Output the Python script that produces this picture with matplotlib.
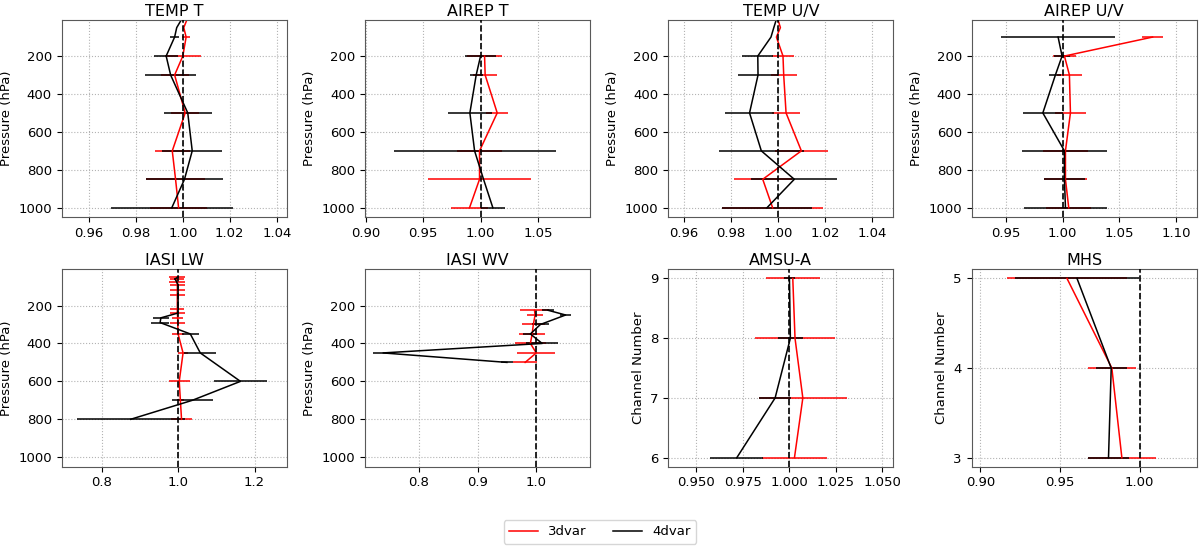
"""FSOI-style ratio profiles: 3dvar vs 4dvar for 8 observation types"""
import numpy as np
import matplotlib as mpl, matplotlib.pyplot as plt
from matplotlib.lines import Line2D

mpl.rcParams.update({"font.size": 9.5, "axes.titlesize": 11.5, "axes.titlepad": 3,
                     "axes.edgecolor": "0.35"})

# ---- data ----
temp_t_p = [10, 50, 100, 200, 300, 500, 700, 850, 1000]
temp_t_3d = [1.0017, 1.0004, 1.0014, 1.0, 0.9965, 1.001, 0.9955, 0.9969, 0.9982]
temp_t_3d_err = [0.0, 0.0, 0.0018, 0.0078, 0.006, 0.006, 0.0075, 0.0125, 0.012]
temp_t_4d = [0.9993, 0.9974, 0.9965, 0.9929, 0.9948, 1.0021, 1.004, 1.0007, 0.9953]
temp_t_4d_err = [0.001, 0.0, 0.002, 0.005, 0.011, 0.0103, 0.0128, 0.0164, 0.026]

airep_t_p = [200, 300, 500, 700, 850, 1000]
airep_t_3d = [1.0035, 1.004, 1.0145, 0.9991, 0.9991, 0.9904]
airep_t_3d_err = [0.015, 0.0104, 0.0098, 0.02, 0.045, 0.0165]
airep_t_4d = [1.0, 0.9962, 0.9907, 0.9948, 1.0026, 1.0107]
airep_t_4d_err = [0.0136, 0.0058, 0.019, 0.0705, 0.0, 0.0107]

temp_uv_p = [10, 50, 100, 200, 300, 500, 700, 850, 1000]
temp_uv_3d = [1.0, 1.001, 0.9993, 1.0021, 1.0024, 1.0034, 1.0099, 0.9935, 0.9977]
temp_uv_3d_err = [0.0, 0.0, 0.0003, 0.0045, 0.0056, 0.0061, 0.0113, 0.0123, 0.0213]
temp_uv_4d = [0.9992, 0.9982, 0.997, 0.9914, 0.9915, 0.9879, 0.9929, 1.0069, 0.9953]
temp_uv_4d_err = [0.0, 0.0, 0.0, 0.0066, 0.0085, 0.0104, 0.018, 0.0183, 0.019]

airep_uv_p = [100, 200, 300, 500, 700, 850, 1000]
airep_uv_3d = [1.0794, 1.0015, 1.0059, 1.0068, 1.0024, 1.0024, 1.0053]
airep_uv_3d_err = [0.0096, 0.01, 0.011, 0.0138, 0.02, 0.019, 0.02]
airep_uv_4d = [0.9959, 0.9994, 0.9935, 0.9824, 1.0015, 1.0015, 1.0024]
airep_uv_4d_err = [0.0504, 0.0068, 0.0053, 0.0174, 0.0374, 0.018, 0.0368]

iasi_lw_p = [50, 60, 75, 90, 120, 145, 220, 240, 265, 290, 350, 450, 600, 700, 800]
iasi_lw_3d = [0.997, 0.997, 0.997, 0.998, 0.998, 0.998, 0.998, 0.998, 0.999, 0.999, 1.0, 1.013, 1.003, 1.006, 1.009]
iasi_lw_3d_err = [0.02, 0.018, 0.02, 0.02, 0.02, 0.02, 0.018, 0.02, 0.015, 0.02, 0.015, 0.012, 0.027, 0.01, 0.028]
iasi_lw_4d = [1.0, 0.992, 0.996, 1.0, 1.0, 1.0, 1.0, 0.999, 0.955, 0.953, 1.032, 1.058, 1.163, 1.037, 0.876]
iasi_lw_4d_err = [0.002, 0.003, 0.002, 0.0, 0.0, 0.0, 0.003, 0.003, 0.02, 0.024, 0.023, 0.042, 0.07, 0.053, 0.141]

iasi_wv_p = [225, 250, 300, 350, 400, 450, 500]
iasi_wv_3d = [0.997, 0.998, 0.995, 0.993, 0.99, 1.0, 0.981]
iasi_wv_3d_err = [0.025, 0.014, 0.02, 0.022, 0.027, 0.032, 0.02]
iasi_wv_4d = [1.02, 1.05, 1.007, 0.99, 1.01, 0.739, 0.95]
iasi_wv_4d_err = [0.01, 0.01, 0.015, 0.012, 0.027, 0.017, 0.01]

amsua_ch = [6, 7, 8, 9]
amsua_3d = [1.0027, 1.0072, 1.003, 1.0018]
amsua_3d_err = [0.0177, 0.0237, 0.0215, 0.0145]
amsua_4d = [0.9717, 0.9923, 1.0005, 1.0]
amsua_4d_err = [0.0143, 0.0084, 0.0068, 0.003]

mhs_ch = [3, 4, 5]
mhs_3d = [0.9889, 0.9826, 0.9544]
mhs_3d_err = [0.0215, 0.0149, 0.0377]
mhs_4d = [0.9805, 0.9822, 0.9607]
mhs_4d_err = [0.013, 0.0098, 0.0387]

panels = [
    ("TEMP T", temp_t_p, temp_t_3d, temp_t_3d_err, temp_t_4d, temp_t_4d_err, (0.9484, 1.0443), np.arange(0.96, 1.041, 0.02)),
    ("AIREP T", airep_t_p, airep_t_3d, airep_t_3d_err, airep_t_4d, airep_t_4d_err, (0.8994, 1.0954), [0.90, 0.95, 1.00, 1.05]),
    ("TEMP U/V", temp_uv_p, temp_uv_3d, temp_uv_3d_err, temp_uv_4d, temp_uv_4d_err, (0.9534, 1.049), np.arange(0.96, 1.041, 0.02)),
    ("AIREP U/V", airep_uv_p, airep_uv_3d, airep_uv_3d_err, airep_uv_4d, airep_uv_4d_err, (0.9194, 1.1185), [0.95, 1.00, 1.05, 1.10]),
    ("IASI LW", iasi_lw_p, iasi_lw_3d, iasi_lw_3d_err, iasi_lw_4d, iasi_lw_4d_err, (0.6957, 1.2843), [0.8, 1.0, 1.2]),
    ("IASI WV", iasi_wv_p, iasi_wv_3d, iasi_wv_3d_err, iasi_wv_4d, iasi_wv_4d_err, (0.7082, 1.0918), [0.8, 0.9, 1.0]),
    ("AMSU-A", amsua_ch, amsua_3d, amsua_3d_err, amsua_4d, amsua_4d_err, (0.9349, 1.0559), [0.950, 0.975, 1.000, 1.025, 1.050]),
    ("MHS", mhs_ch, mhs_3d, mhs_3d_err, mhs_4d, mhs_4d_err, (0.8944, 1.036), [0.90, 0.95, 1.00]),
]

fig, axes = plt.subplots(2, 4, figsize=(12, 5.47), dpi=100)
fig.subplots_adjust(left=0.0514, right=0.9973, top=0.9634, bottom=0.1468, wspace=0.347, hspace=0.265)

for ax, (title, y, v3, e3, v4, e4, xlim, xt) in zip(axes.flat, panels):
    ax.errorbar(v3, y, xerr=e3, color="red", lw=1.1, elinewidth=1.1)
    ax.errorbar(v4, y, xerr=e4, color="black", lw=1.1, elinewidth=1.1)
    ax.axvline(1.0, color="black", ls="--", lw=1.2, zorder=5)
    ax.grid(True, ls=":", color="0.7", lw=0.8)
    ax.set_title(title)
    ax.set_xlim(*xlim)
    ax.set_xticks(xt)
    if title in ("AMSU-A", "MHS"):
        ax.set_yticks(y)
        ax.set_ylabel("Channel Number")
    else:
        ax.set_ylim(1050, 10)
        ax.set_yticks([200, 400, 600, 800, 1000])
        ax.set_ylabel("Pressure (hPa)")

handles = [Line2D([], [], color="red", lw=1.1), Line2D([], [], color="black", lw=1.1)]
fig.legend(handles, ["3dvar", "4dvar"], loc="lower center", ncol=2, bbox_to_anchor=(0.5, -0.006),
           fontsize=9.5, handlelength=2.2, columnspacing=2.0)
fig.savefig("out.png", dpi=100)
